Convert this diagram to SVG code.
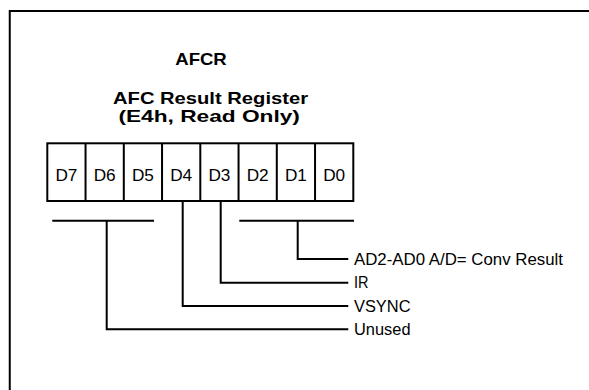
<svg xmlns="http://www.w3.org/2000/svg" width="589" height="390" viewBox="0 0 589 390">
<style>
.t{font-family:"Liberation Sans",Arial,sans-serif;fill:#000}
.b{font-weight:bold;font-size:16.5px;text-anchor:middle}
.c{font-size:16.3px;text-anchor:middle}
.l{font-size:15.8px}
.ln{fill:none;stroke:#000;stroke-width:2}
</style>
<rect width="589" height="390" fill="#fff"/>
<rect class="ln" x="9.75" y="11" width="620" height="420"/>
<g id="title">
<text class="t b" x="201" y="65" textLength="51.5" lengthAdjust="spacingAndGlyphs">AFCR</text>
<text class="t b" x="210.5" y="103.6" textLength="195" lengthAdjust="spacingAndGlyphs">AFC Result Register</text>
<text class="t b" x="209.2" y="122.2" textLength="181.5" lengthAdjust="spacingAndGlyphs">(E4h, Read Only)</text>
</g>
<g id="register">
<rect class="ln" x="47.3" y="143.3" width="306" height="57.7"/>
<path class="ln" d="M85.55 143.3V201M123.8 143.3V201M162.05 143.3V201M200.3 143.3V201M238.55 143.3V201M276.8 143.3V201M315.05 143.3V201"/>
<g id="bits">
<text class="t c" x="66.4" y="181" textLength="22" lengthAdjust="spacingAndGlyphs">D7</text>
<text class="t c" x="104.7" y="181" textLength="22" lengthAdjust="spacingAndGlyphs">D6</text>
<text class="t c" x="142.9" y="181" textLength="22" lengthAdjust="spacingAndGlyphs">D5</text>
<text class="t c" x="181.2" y="181" textLength="22" lengthAdjust="spacingAndGlyphs">D4</text>
<text class="t c" x="219.4" y="181" textLength="22" lengthAdjust="spacingAndGlyphs">D3</text>
<text class="t c" x="257.7" y="181" textLength="22" lengthAdjust="spacingAndGlyphs">D2</text>
<text class="t c" x="295.9" y="181" textLength="22" lengthAdjust="spacingAndGlyphs">D1</text>
<text class="t c" x="334.2" y="181" textLength="22" lengthAdjust="spacingAndGlyphs">D0</text>
</g>
</g>
<g id="connectors">
<path class="ln" d="M52.3 220.7H154M106.7 220.7V329.3H348.3"/>
<path class="ln" d="M182.7 201V306H348.3"/>
<path class="ln" d="M220.7 201V282.7H348.3"/>
<path class="ln" d="M239.3 220.7H354M297.7 220.7V259H348.3"/>
</g>
<g id="labels">
<text class="t l" x="354" y="265" textLength="209" lengthAdjust="spacingAndGlyphs">AD2-AD0 A/D= Conv Result</text>
<text class="t l" x="354" y="288.4" textLength="14.5" lengthAdjust="spacingAndGlyphs">IR</text>
<text class="t l" x="354" y="311.7" textLength="56.5" lengthAdjust="spacingAndGlyphs">VSYNC</text>
<text class="t l" x="354" y="335" textLength="56.5" lengthAdjust="spacingAndGlyphs">Unused</text>
</g>
</svg>
